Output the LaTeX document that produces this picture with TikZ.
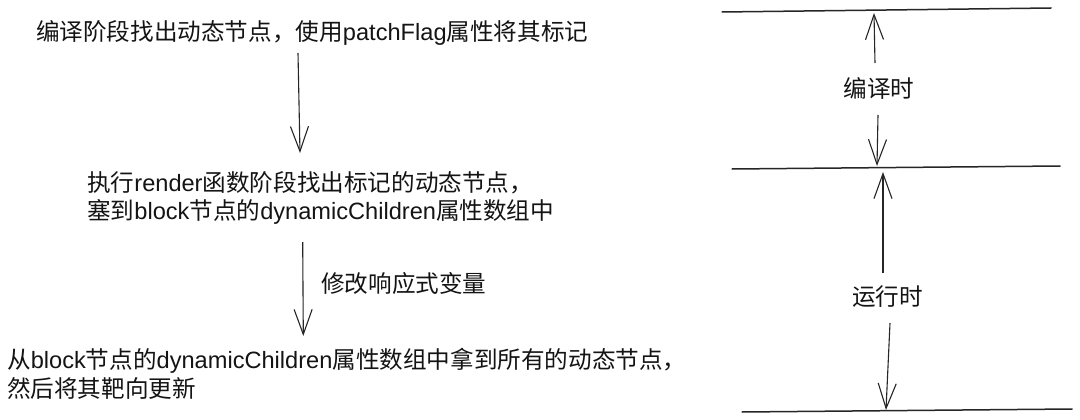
\documentclass[tikz,border=0pt]{standalone}
\usepackage{fontspec}
\setmainfont{Liberation Sans}
\newfontfamily\cjk{Noto Sans CJK SC}
\newcommand\zhs[1]{{\cjk #1}}
\usetikzlibrary{arrows.meta}
\begin{document}
\begin{tikzpicture}[x=1pt,y=-1pt,
  txt/.style={font=\fontsize{23.6}{28.5}\selectfont, inner sep=0pt, align=left, text=black!92},
  arr/.style={line width=1.1pt, draw=black!85, -{Straight Barb[length=25pt,width=18pt,line width=1.1pt]}},
  hline/.style={line width=1.5pt, draw=black!85, line cap=round}]
\useasboundingbox (0,0) rectangle (1080,420);
\fill[white] (0,0) rectangle (1080,420);

% left column texts
\node[txt, anchor=west] (t1) at (36,33) {\zhs{编译阶段找出动态节点，使用}patchFlag\zhs{属性将其标记}};
\node[txt, anchor=west] (t2) at (87,198) {\zhs{执行}render\zhs{函数阶段找出标记的动态节点，}\\\zhs{塞到}block\zhs{节点的}dynamicChildren\zhs{属性数组中}};
\node[txt, anchor=west] (t3) at (7,374) {\zhs{从}block\zhs{节点的}dynamicChildren\zhs{属性数组中拿到所有的动态节点，}\\\zhs{然后将其靶向更新}};
\node[txt, anchor=west] (mod) at (321,284) {\zhs{修改响应式变量}};

% left arrows
\coordinate (a1s) at (298,53);
\coordinate (a1e) at (300,153);
\coordinate (a2s) at (302.7,242);
\coordinate (a2e) at (303.3,336);
\draw[arr] (a1s) -- (a1e);
\draw[arr] (a2s) -- (a2e);

% right column: timeline lines
\coordinate (l1a) at (722,12);  \coordinate (l1b) at (1051,8);
\coordinate (l2a) at (732,169); \coordinate (l2b) at (1060,166);
\coordinate (l3a) at (742,412); \coordinate (l3b) at (1072,409);
\draw[hline] (l1a) -- (l1b);
\draw[hline] (l2a) -- (l2b);
\draw[hline] (l3a) -- (l3b);

\node[txt] (cmp) at (879,88.5) {\zhs{编译时}};
\node[txt] (run) at (887.5,297) {\zhs{运行时}};

\coordinate (u1s) at (875,63);  \coordinate (u1e) at (874,13);
\coordinate (d1s) at (878,115); \coordinate (d1e) at (877,166);
\coordinate (u2s) at (883,273); \coordinate (u2e) at (883,172);
\coordinate (d2s) at (890,323); \coordinate (d2e) at (886,410);
\draw[arr] (u1s) -- (u1e);
\draw[arr] (d1s) -- (d1e);
\draw[arr] (u2s) -- (u2e);
\draw[arr] (d2s) -- (d2e);
\end{tikzpicture}
\end{document}
